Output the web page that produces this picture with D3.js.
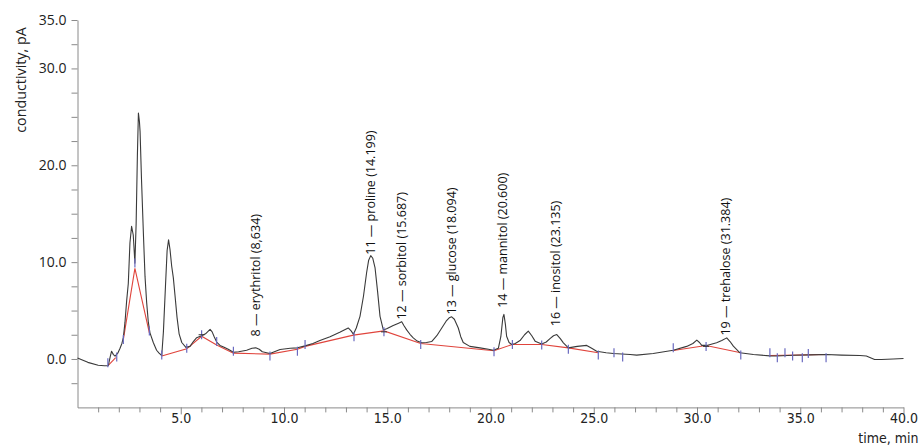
<!DOCTYPE html>
<html>
<head>
<meta charset="utf-8">
<script src="https://cdn.jsdelivr.net/npm/d3@7/dist/d3.min.js"></script>
<style>
  html, body { margin: 0; padding: 0; background: #fff; }
  svg { display: block; }
</style>
</head>
<body>
<svg id="chart" width="923" height="446"></svg>
<script>
// ---- data ----
const timeMin = [0, 0.5, 1.0, 1.3, 1.49, 1.58, 1.65, 1.74, 1.82, 1.95, 2.06, 2.15, 2.22, 2.30, 2.38, 2.46, 2.54, 2.62, 2.70, 2.78, 2.84, 2.90, 2.95, 3.00, 3.03, 3.10, 3.19, 3.27, 3.35, 3.43, 3.51, 3.67, 3.83, 3.95, 4.08, 4.16, 4.26, 4.34, 4.41, 4.48, 4.56, 4.64, 4.72, 4.82, 4.92, 5.05, 5.25, 5.45, 5.61, 5.77, 6.01, 6.2, 6.42, 6.52, 6.62, 6.74, 6.9, 7.1, 7.3, 7.55, 7.8, 8.19, 8.45, 8.63, 8.8, 8.95, 9.32, 9.81, 10.3, 10.65, 11.02, 11.4, 11.74, 12.23, 12.7, 13.11, 13.25, 13.36, 13.5, 13.68, 13.85, 14.0, 14.1, 14.2, 14.3, 14.41, 14.53, 14.65, 14.81, 15.0, 15.29, 15.55, 15.70, 15.82, 15.94, 16.1, 16.26, 16.45, 16.67, 16.9, 17.15, 17.4, 17.64, 17.85, 18.0, 18.12, 18.25, 18.44, 18.56, 18.68, 19.0, 19.49, 19.9, 20.14, 20.38, 20.5, 20.6, 20.65, 20.72, 20.78, 20.9, 21.03, 21.2, 21.43, 21.65, 21.83, 22.0, 22.16, 22.48, 22.7, 22.88, 23.05, 23.21, 23.38, 23.53, 23.77, 24.2, 24.66, 24.9, 25.14, 25.6, 25.95, 26.76, 27.08, 27.88, 28.85, 29.5, 29.8, 29.99, 30.12, 30.23, 30.47, 30.95, 31.2, 31.44, 31.6, 31.76, 32.08, 32.73, 33.53, 33.86, 34.66, 35.5, 36.28, 37.0, 37.89, 38.2, 38.6, 38.93, 39.5, 40.0];
const conductivity = [0.1, -0.35, -0.65, -0.7, -0.7, 0.2, 0.8, 0.45, 0.3, 0.6, 1.1, 1.6, 2.2, 3.8, 6.0, 7.8, 12.0, 13.7, 12.8, 9.9, 14.0, 21.0, 25.4, 24.5, 23.5, 18.5, 13.0, 8.5, 5.8, 3.8, 2.7, 1.7, 0.9, 0.6, 0.36, 2.8, 7.5, 11.2, 12.3, 11.3, 9.6, 8.4, 6.6, 4.3, 2.6, 1.7, 1.2, 1.3, 1.8, 2.2, 2.4, 2.6, 3.05, 2.8, 2.3, 1.75, 1.4, 1.2, 1.0, 0.7, 0.75, 0.9, 1.1, 1.15, 1.0, 0.75, 0.57, 0.98, 1.1, 1.15, 1.35, 1.6, 1.9, 2.3, 2.75, 3.2, 2.9, 2.55, 3.2, 4.4, 6.5, 8.9, 10.2, 10.67, 10.4, 9.4, 7.0, 4.4, 3.0, 3.15, 3.45, 3.7, 3.85, 3.4, 3.0, 2.55, 2.18, 1.85, 1.67, 1.7, 1.8, 2.4, 3.2, 3.9, 4.25, 4.35, 4.1, 3.2, 2.3, 1.7, 1.3, 1.15, 1.0, 0.9, 1.1, 2.3, 4.3, 4.6, 3.6, 2.35, 1.7, 1.5, 1.6, 1.9, 2.5, 2.87, 2.4, 1.84, 1.55, 1.75, 2.1, 2.4, 2.52, 2.1, 1.67, 1.15, 1.3, 1.4, 1.1, 0.8, 0.65, 0.57, 0.46, 0.4, 0.57, 0.9, 1.3, 1.6, 1.94, 1.7, 1.4, 1.4, 1.67, 1.9, 2.18, 1.8, 1.32, 0.64, 0.46, 0.32, 0.3, 0.39, 0.42, 0.46, 0.4, 0.36, 0.3, -0.05, -0.05, 0.0, 0.05];

// baseline segments (time, value)
const baselineSegA = [[1.49, -0.67], [1.85, 0.15]];
const baselineSegB = [[2.22, 2.0], [2.78, 9.36], [3.48, 2.7]];
const baselineSegC = [[4.08, 0.3], [5.29, 1.05], [6.01, 2.35], [6.74, 1.45], [7.55, 0.6], [9.32, 0.5], [10.65, 1.0], [11.02, 1.3], [13.36, 2.46], [14.84, 2.9], [16.62, 1.6], [20.17, 0.85], [21.06, 1.5], [22.48, 1.5], [23.77, 1.15], [25.22, 0.64]];
const baselineSegD = [[28.85, 0.88], [30.44, 1.39], [32.12, 0.64]];
const baselineSegE = [[33.53, 0.36], [36.27, 0.46]];

// integration markers (time, value)
const markerTimes = [1.47, 1.90, 2.22, 2.78, 3.48, 4.08, 5.29, 6.01, 6.74, 7.55, 9.32, 10.65, 11.02, 13.39, 14.84, 16.62, 20.17, 21.06, 22.48, 23.77, 25.22, 25.98, 26.40, 28.85, 30.44, 32.12, 33.53, 33.89, 34.26, 34.63, 35.10, 35.39, 36.25];
const markerValues = [-0.4, 0.2, 2.0, 9.9, 2.9, 0.4, 1.1, 2.5, 1.8, 0.8, 0.3, 0.8, 1.5, 2.3, 2.8, 1.5, 0.75, 1.5, 1.45, 1.0, 0.4, 0.65, 0.2, 1.15, 1.3, 0.4, 0.65, 0.12, 0.65, 0.3, 0.12, 0.57, 0.12];
const crossTimes = [6.01, 14.84, 30.44];

// peak labels
const peakLabels = ["8 — erythritol (8,634)", "11 — proline (14.199)", "12 — sorbitol (15.687)", "13 — glucose (18.094)", "14 — mannitol (20.600)", "16 — inositol (23.135)", "19 — trehalose (31.384)"];
const peakTimes = [8.634, 14.199, 15.687, 18.094, 20.600, 23.135, 31.384];
const peakLabelValues = [2.32, 10.77, 4.07, 4.59, 5.28, 3.38, 2.42];

// axis ticks
const yTickValues = [-2.5, 0, 2.5, 5, 7.5, 10, 12.5, 15, 17.5, 20, 22.5, 25, 27.5, 30, 32.5, 35];
const yLabelled = [35, 30, 20, 10, 0];
const xTickValues = d3.range(1, 41);
const xLabelled = [5, 10, 15, 20, 25, 30, 35, 40];

// ---- drawing ----
const svg = d3.select("#chart");
const x = d3.scaleLinear().domain([0, 40]).range([77.5, 903.5]);
const y = d3.scaleLinear().domain([-5, 35]).range([407.4, 20]);

const axisColor = "#8a8a8a";
const textColor = "#222";

// Y axis
const yAxis = d3.axisLeft(y).tickValues(yTickValues).tickSize(6).tickSizeOuter(0)
  .tickFormat(d => yLabelled.includes(d) ? d3.format(".1f")(d) : "");
const gy = svg.append("g").attr("transform", `translate(${x(0)},0)`).call(yAxis);
gy.select(".domain").attr("stroke", axisColor);
gy.selectAll(".tick line").attr("stroke", axisColor);
gy.selectAll(".tick text").attr("fill", textColor)
  .style("font-family", "'Open Sans', sans-serif").style("font-size", "14px").attr("x", -11);

// X axis
const xAxis = d3.axisBottom(x).tickValues(xTickValues).tickSize(5).tickSizeOuter(0)
  .tickFormat(d => xLabelled.includes(d) ? d3.format(".1f")(d) : "");
const gx = svg.append("g").attr("transform", `translate(0,${y(-5)})`).call(xAxis);
gx.select(".domain").attr("stroke", axisColor);
gx.selectAll(".tick line").attr("stroke", axisColor)
  .attr("y2", d => xLabelled.includes(d) ? 7 : 5);
gx.selectAll(".tick text").attr("fill", textColor)
  .style("font-family", "'Liberation Sans Narrow', 'DejaVu Sans Condensed', sans-serif")
  .style("font-size", "14px").attr("y", 6);

// axis titles
svg.append("text")
  .attr("transform", `translate(20,${y(28.8)}) rotate(-90)`)
  .attr("text-anchor", "middle").attr("dominant-baseline", "central")
  .style("font-family", "'Open Sans', sans-serif").style("font-size", "14.3px")
  .attr("fill", textColor).text("conductivity, pA");
svg.append("text")
  .attr("x", x(40) + 15).attr("y", 443)
  .attr("text-anchor", "end")
  .style("font-family", "'Liberation Sans Narrow', 'DejaVu Sans Condensed', sans-serif")
  .style("font-size", "14px").attr("fill", textColor).text("time, min");

// baseline
const bline = d3.line().x(d => x(d[0])).y(d => y(d[1]));
[baselineSegA, baselineSegB, baselineSegC, baselineSegD, baselineSegE].forEach(seg => {
  svg.append("path").attr("d", bline(seg)).attr("fill", "none")
    .attr("stroke", "#e0443c").attr("stroke-width", 1.1);
});

// trace
const trace = timeMin.map((t, i) => [t, conductivity[i]]);
svg.append("path").attr("d", d3.line().x(d => x(d[0])).y(d => y(d[1]))(trace))
  .attr("fill", "none").attr("stroke", "#3a3a3a").attr("stroke-width", 1.1)
  .attr("stroke-linejoin", "round");

// markers
svg.append("g").selectAll("line").data(markerTimes.map((t, i) => [t, markerValues[i]]))
  .join("line")
  .attr("x1", d => x(d[0])).attr("x2", d => x(d[0]))
  .attr("y1", d => y(d[1]) - 4.5).attr("y2", d => y(d[1]) + 4.5)
  .attr("stroke", "#6a6ac0").attr("stroke-width", 1.2);
svg.append("g").selectAll("line").data(crossTimes)
  .join("line")
  .attr("x1", d => x(d) - 3).attr("x2", d => x(d) + 3)
  .attr("y1", d => y(markerValues[markerTimes.indexOf(d)]))
  .attr("y2", d => y(markerValues[markerTimes.indexOf(d)]))
  .attr("stroke", "#333").attr("stroke-width", 1);

// labels
svg.append("g").selectAll("text").data(peakLabels)
  .join("text")
  .attr("transform", (d, i) => `translate(${x(peakTimes[i])},${y(peakLabelValues[i])}) rotate(-90)`)
  .attr("text-anchor", "start").attr("dominant-baseline", "central")
  .style("font-family", "'Open Sans', sans-serif").style("font-size", "12.5px")
  .attr("fill", "#111").text(d => d);
</script>
</body>
</html>
